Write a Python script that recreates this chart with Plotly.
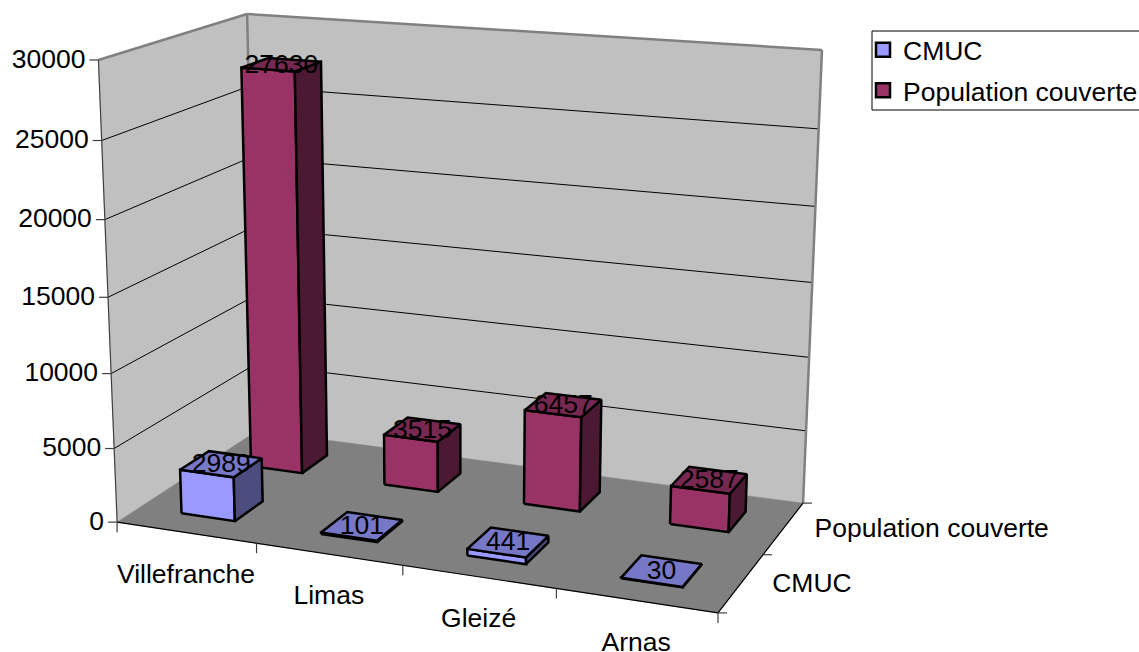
import numpy as np
import plotly.graph_objects as go

categories = ["Villefranche", "Limas", "Gleizé", "Arnas"]
series_names = ["CMUC", "Population couverte"]
cmuc = [2989, 101, 441, 30]
population = [27630, 3515, 6457, 2587]
value_ticks = [0, 5000, 10000, 15000, 20000, 25000, 30000]

W, H = 1139, 652
Z_MAX = 30000
FONT = "Liberation Sans"
FS = 26.5

# Calibration of the 3D box: box corner (x, depth, height) -> page pixel
corner_box = [(0,0,0),(1,0,0),(1,1,0),(0,1,0),(0,0,1),(0,1,1),(1,1,1)]
corner_px = [(117,522),(718,613),(803,503),(257,431),(98.5,60),(247,14),(822,50)]
A, b = [], []
for (X, Y, Z), (u, v) in zip(corner_box, corner_px):
    A.append([X, Y, Z, 1, 0, 0, 0, 0, -u*X, -u*Y, -u*Z]); b.append(u)
    A.append([0, 0, 0, 0, X, Y, Z, 1, -v*X, -v*Y, -v*Z]); b.append(v)
p = np.linalg.lstsq(np.array(A, float), np.array(b, float), rcond=None)[0]
P = np.append(p, 1).reshape(3, 4)

def proj(X, Y, Z):
    r = P @ np.array([X, Y, Z, 1.0])
    return r[0]/r[2], r[1]/r[2]

def zn(v):
    return v / Z_MAX

fig = go.Figure()

def poly(pts, fill, line="black", lw=2.5):
    xy = [proj(*q) for q in pts]
    xy.append(xy[0])
    fig.add_trace(go.Scatter(x=[a for a, _ in xy], y=[c for _, c in xy], mode="lines",
                             fill="toself", fillcolor=fill, line=dict(color=line, width=lw, simplify=False),
                             hoverinfo="skip", showlegend=False))

def seg(q1, q2, color="black", lw=1, off=(0, 0)):
    a = proj(*q1); c = proj(*q2)
    fig.add_trace(go.Scatter(x=[a[0], c[0]+off[0]], y=[a[1], c[1]+off[1]], mode="lines",
                             line=dict(color=color, width=lw), hoverinfo="skip", showlegend=False))

WALL = "#C0C0C0"; FLOOR = "#808080"; EDGE = "#808080"
poly([(0,1,0),(1,1,0),(1,1,1),(0,1,1)], WALL, WALL, 0.5)
poly([(0,0,0),(0,1,0),(0,1,1),(0,0,1)], WALL, WALL, 0.5)
poly([(0,0,0),(1,0,0),(1,1,0),(0,1,0)], FLOOR, FLOOR, 0.5)
for t in value_ticks[1:-1]:
    z = zn(t)
    seg((0,0,z),(0,1,z))
    seg((0,1,z),(1,1,z))
seg((0,0,1),(0,1,1), EDGE, 2.5)
seg((0,1,1),(1,1,1), EDGE, 2.5)
seg((1,1,1),(1,1,0), EDGE, 2.5)
seg((0,1,1),(0,1,0), EDGE, 2.5)
seg((0,0,0),(0,0,1), "#404040", 1.2)
seg((0,0,0),(1,0,0), "black", 1.2)
seg((1,0,0),(1,1,0), "black", 1.2)
for t in value_ticks:
    seg((0,0,zn(t)),(0,0,zn(t)), "#404040", 1.2, off=(-9, 0))
for i in range(5):
    seg((i/4,0,0),(i/4,0,0), "#404040", 1.2, off=(0, 10))
for j in range(3):
    seg((1,j/2,0),(1,j/2,0), "#404040", 1.2, off=(9, 0))

BW = 0.4/4 * 0.97
BD = 0.4/2 * 1.0
colors = [("#9999FF", "#7777C7", "#4C4C7F"), ("#993366", "#772850", "#4C1933")]
values = [cmuc, population]
labels_x, labels_y, labels_t = [], [], []
for s in (1, 0):
    for i, v in enumerate(values[s]):
        xc = (i+0.5)/4; yc = (s+0.5)/2; z = zn(v)
        x0, x1, y0, y1 = xc-BW/2, xc+BW/2, yc-BD/2, yc+BD/2
        front, top, side = colors[s]
        poly([(x0,y0,0),(x1,y0,0),(x1,y0,z),(x0,y0,z)], front)
        poly([(x1,y0,0),(x1,y1,0),(x1,y1,z),(x1,y0,z)], side)
        poly([(x0,y0,z),(x1,y0,z),(x1,y1,z),(x0,y1,z)], top)
        lx, ly = proj(xc, yc, z)
        labels_x.append(lx); labels_y.append(ly+1.5); labels_t.append(str(v))

def text(xs, ys, ts, pos):
    fig.add_trace(go.Scatter(x=xs, y=ys, text=ts, mode="text", textposition=pos,
                             textfont=dict(family=FONT, size=FS, color="black"),
                             hoverinfo="skip", showlegend=False))

text(labels_x, labels_y, labels_t, "middle center")
ty = [proj(0,0,zn(t)) for t in value_ticks]
text([a-13 for a, _ in ty], [c+1 for _, c in ty], [str(t) for t in value_ticks], "middle left")
tc = [proj((i+0.5)/4,0,0) for i in range(4)]
text([a for a, _ in tc], [c+43.5 for _, c in tc], categories, "middle center")
ts = [proj(1,(j+0.5)/2,0) for j in range(2)]
text([a+31 for a, _ in ts], [c+2 for _, c in ts], series_names, "middle right")

fig.add_shape(type="rect", x0=872, x1=1139.5, y0=31, y1=110, xref="x", yref="y",
              line=dict(color="black", width=1), fillcolor="white", layer="below")
for name, c in zip(series_names, colors):
    fig.add_trace(go.Scatter(x=[None], y=[None], name=name, legendgroup=name, mode="markers",
                             marker=dict(symbol="square", size=14, color=c[0], line=dict(color="black", width=2.5))))

fig.update_layout(
    width=W, height=H, margin=dict(l=0, r=0, t=0, b=0, autoexpand=False),
    paper_bgcolor="white", plot_bgcolor="white",
    xaxis=dict(range=[0, W], visible=False, fixedrange=True),
    yaxis=dict(range=[H, 0], visible=False, fixedrange=True),
    legend=dict(x=(903-40)/W, y=1-26/H, xanchor="left", yanchor="top", bgcolor="rgba(0,0,0,0)",
                borderwidth=0, font=dict(family=FONT, size=FS, color="black"),
                traceorder="grouped", tracegroupgap=3),
    showlegend=True,
)
fig.write_html("out.html", config={"displayModeBar": False},
               post_script="document.body.style.margin='0';")
